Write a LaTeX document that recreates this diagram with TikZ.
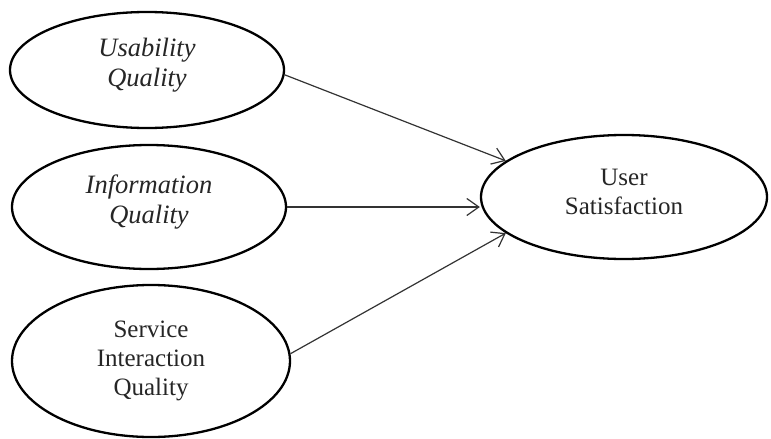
\documentclass[tikz,border=0pt]{standalone}
\usepackage{fontspec}
\setmainfont{Liberation Serif}
\usetikzlibrary{shapes.geometric,arrows.meta}
\begin{document}
\begin{tikzpicture}[x=1pt,y=-1pt,
  construct/.style={draw=black, line width=2.3pt, ellipse, inner sep=0pt},
  lbl/.style={align=center, font=\fontsize{25}{29}\selectfont, text=black!85},
  itlbl/.style={lbl, font=\fontsize{26.5}{30}\selectfont\itshape},
  link/.style={draw=black!80, line width=1.2pt, -{Straight Barb[length=12pt,width=17pt,line width=1.2pt]}}]
\useasboundingbox[fill=white] (0,0) rectangle (771,439);
\node[construct, minimum width=274pt, minimum height=116pt] (e1) at (147,70) {};
\node[construct, minimum width=274pt, minimum height=124pt] (e2) at (149,207) {};
\node[construct, minimum width=278pt, minimum height=152pt] (e3) at (151,361) {};
\node[construct, minimum width=286pt, minimum height=124pt] (e4) at (624,197) {};
\node[itlbl] (t1) at (147,65) {Usability\\Quality};
\node[itlbl] (t2) at (149,202) {Information\\Quality};
\node[lbl] (t3) at (151,361) {Service\\Interaction\\Quality};
\node[lbl] (t4) at (624,192) {User\\Satisfaction};
\draw[link] (e1.-2) -- (e4.163);
\draw[link] (e2.east) -- (e2.east -| e4.west);
\draw[link] (e3.3) -- (e4.197);
\end{tikzpicture}
\end{document}
